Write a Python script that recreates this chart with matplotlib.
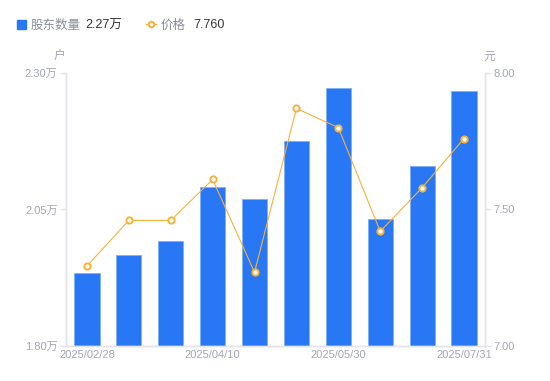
import numpy as np
import matplotlib
matplotlib.use("Agg")
import matplotlib.pyplot as plt
from matplotlib.lines import Line2D

plt.rcParams['font.family'] = ['Liberation Sans', 'Noto Sans CJK SC', 'DejaVu Sans']

# 数据
dates = ['2025/02/28', '2025/03/10', '2025/03/20', '2025/04/10', '2025/04/20',
         '2025/04/30', '2025/05/30', '2025/06/10', '2025/06/30', '2025/07/31']
holders = [1.934, 1.967, 1.992, 2.091, 2.069, 2.175, 2.272, 2.033, 2.130, 2.267]  # 万户
price = [7.293, 7.460, 7.460, 7.610, 7.270, 7.870, 7.800, 7.420, 7.580, 7.760]
shown_ticks = ['2025/02/28', '2025/04/10', '2025/05/30', '2025/07/31']

blue = '#2878F5'
orange = '#F7B13A'
grey_txt = '#A3A6B4'
axis_col = '#E3E4EA'

fig = plt.figure(figsize=(5.5, 3.81), dpi=100)
ax = fig.add_axes([0.12, 0.0919, 0.7618, 0.7165])
ax2 = ax.twinx()

x = np.arange(len(dates))
ax.bar(x, holders, width=0.6, color=blue, edgecolor='#7FAEF7', linewidth=0.6, zorder=2)
ax.set_xlim(-0.5, len(dates) - 0.5)
ax.set_ylim(1.80, 2.30)
ax.set_yticks([1.80, 2.05, 2.30])
ax.set_yticklabels(['1.80万', '2.05万', '2.30万'])

ax2.plot(x, price, color=orange, linewidth=0.8, marker='o', markersize=4.5,
         markerfacecolor='white', markeredgecolor=orange, markeredgewidth=1.4, zorder=3)
ax2.set_ylim(7.0, 8.0)
ax2.set_yticks([7.0, 7.5, 8.0])
ax2.set_yticklabels(['7.00', '7.50', '8.00'])

ax.set_xticks([dates.index(d) for d in shown_ticks])
ax.set_xticklabels(shown_ticks)

for a in (ax, ax2):
    for s in a.spines.values():
        s.set_color(axis_col)
        s.set_linewidth(1)
    a.spines['top'].set_visible(False)
    a.tick_params(colors=axis_col, labelcolor=grey_txt, labelsize=8, length=4, width=1)
ax.tick_params(axis='x', length=0, pad=3)
ax.tick_params(axis='y', pad=2)
ax2.tick_params(axis='y', pad=2)

fig.text(59 / 550, 1 - 57 / 381, '户', color=grey_txt, fontsize=8.5, ha='center', va='center')
fig.text(489 / 550, 1 - 57 / 381, '元', color=grey_txt, fontsize=8.5, ha='center', va='center')

# 图例
ly = 1 - 24 / 381
fig.patches.append(plt.Rectangle((17 / 550, 1 - 29 / 381), 9 / 550, 9 / 381,
                                 transform=fig.transFigure, color=blue))
fig.text(31 / 550, ly, '股东数量', color='#8A8D99', fontsize=9, va='center_baseline')
fig.text(85 / 550, ly, '2.27万', color='#333333', fontsize=9, va='center_baseline')
fig.lines.append(Line2D([146 / 550, 151 / 550, 156 / 550], [ly, ly, ly], transform=fig.transFigure,
                        color=orange, linewidth=1, marker='o', markersize=4, markevery=[1],
                        markerfacecolor='white', markeredgecolor=orange, markeredgewidth=1.4))
fig.text(161 / 550, ly, '价格', color='#8A8D99', fontsize=9, va='center_baseline')
fig.text(193 / 550, ly, '7.760', color='#333333', fontsize=9, va='center_baseline')

fig.savefig('out.png', dpi=100)
